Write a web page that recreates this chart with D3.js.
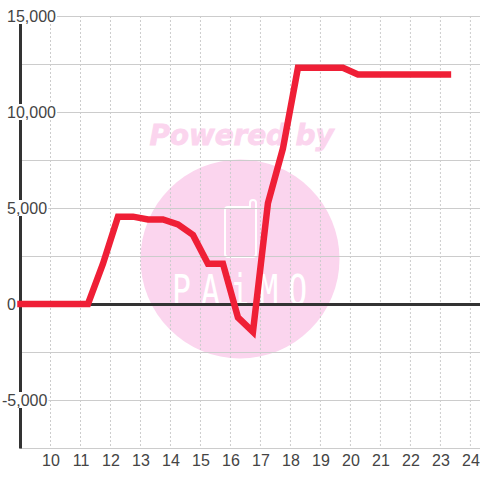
<!DOCTYPE html>
<html><head><meta charset="utf-8">
<script src="https://cdn.jsdelivr.net/npm/d3@7/dist/d3.min.js"></script>
<style>html,body{margin:0;padding:0;background:#fff}svg{display:block}</style></head>
<body><svg id="c" width="480" height="480"></svg>
<script>
const hours = [9,9.25,9.75,10.25,10.75,11.25,11.75,12.25,12.75,13.25,13.75,14.25,14.75,15.25,15.75,16.25,16.75,17.25,17.75,18.25,18.75,19.25,19.75,20.25,20.75,21.25,21.75,22.25,22.75,23.25];
const balance = [0,0,0,0,0,0,2100,4550,4550,4400,4400,4150,3600,2100,2100,-700,-1450,5250,8100,12300,12300,12300,12300,11950,11950,11950,11950,11950,11950,11950];
const yTicks = [15000,10000,5000,0,-5000];
const yGrid = [15000,12500,10000,7500,5000,2500,0,-2500,-5000];
const xTicks = [10,11,12,13,14,15,16,17,18,19,20,21,22,23,24];
const fmt = d3.format(",");
const label = d => fmt(d).replace("\u2212","-");
const x = d3.scaleLinear().domain([9,24.32]).range([20.5,480]);
const y = d3.scaleLinear().domain([15000,-7500]).range([16,448]);
const svg = d3.select("#c");
const pink = "#fbd5ee";
// watermark
svg.append("circle").attr("cx",240).attr("cy",259).attr("r",99.5).attr("fill",pink);
svg.append("text").attr("x",241.5).attr("y",145).attr("text-anchor","middle")
  .attr("font-family","DejaVu Sans").attr("font-weight","bold").attr("font-style","italic")
  .attr("font-size",28).attr("letter-spacing",-0.15)
  .attr("fill",pink).attr("stroke",pink).attr("stroke-width",0.8).text("Powered by");
svg.append("path")
  .attr("d","M250,207H228q-3,0 -3,3V254q0,3 3,3H253q3,0 3,-3V203q0,-3 -3,-3t-3,3Z")
  .attr("fill","none").attr("stroke","#fff").attr("stroke-width",2);
svg.append("text").attr("transform","translate(172,305) scale(0.75,1)")
  .attr("font-family","DejaVu Sans Mono").attr("font-size",42).attr("letter-spacing",13.5)
  .attr("fill","#fff").text("PAiMO");
// grids
svg.append("g").selectAll("line").data(xTicks).join("line")
  .attr("x1",d=>x(d)).attr("x2",d=>x(d)).attr("y1",16).attr("y2",448)
  .attr("stroke","#ccc").attr("stroke-dasharray","2,2");
svg.append("g").selectAll("line").data(yGrid).join("line")
  .attr("x1",20).attr("x2",480).attr("y1",d=>y(d)+.5).attr("y2",d=>y(d)+.5)
  .attr("stroke","#ccc").attr("stroke-width",1);
svg.append("line").attr("x1",20).attr("x2",480).attr("y1",448.5).attr("y2",448.5).attr("stroke","#ccc");
// axes
svg.append("line").attr("x1",20.5).attr("x2",20.5).attr("y1",16).attr("y2",448.5).attr("stroke","#333").attr("stroke-width",3);
svg.append("line").attr("x1",20).attr("x2",480).attr("y1",y(0)+.5).attr("y2",y(0)+.5).attr("stroke","#333").attr("stroke-width",3);
// y labels with white background
const yl = svg.append("g").selectAll("g").data(yTicks).join("g");
yl.append("text").attr("x",d=>d<0?2:7).attr("y",d=>y(d)+6).attr("font-family","Liberation Sans").attr("font-size",16).attr("fill","#444").text(label);
yl.each(function(d){
  const g=d3.select(this), b=g.select("text").node().getBBox();
  g.insert("rect","text").attr("x",b.x).attr("y",y(d)-8).attr("width",b.width+1).attr("height",16).attr("fill","#fff");
});
// x labels
svg.append("g").selectAll("text").data(xTicks).join("text")
  .attr("x",d=>x(d)+.5).attr("y",466).attr("text-anchor","middle")
  .attr("font-family","Liberation Sans").attr("font-size",16).attr("fill","#444").text(d=>d);
// line
const line = d3.line().x((d,i)=>x(hours[i])).y(d=>y(d));
svg.append("path").attr("d",line(balance)).attr("fill","none").attr("stroke","#ef1f36")
  .attr("stroke-width",6.5).attr("stroke-linecap","square").attr("stroke-linejoin","miter").attr("stroke-miterlimit",2.5);
</script></body></html>
